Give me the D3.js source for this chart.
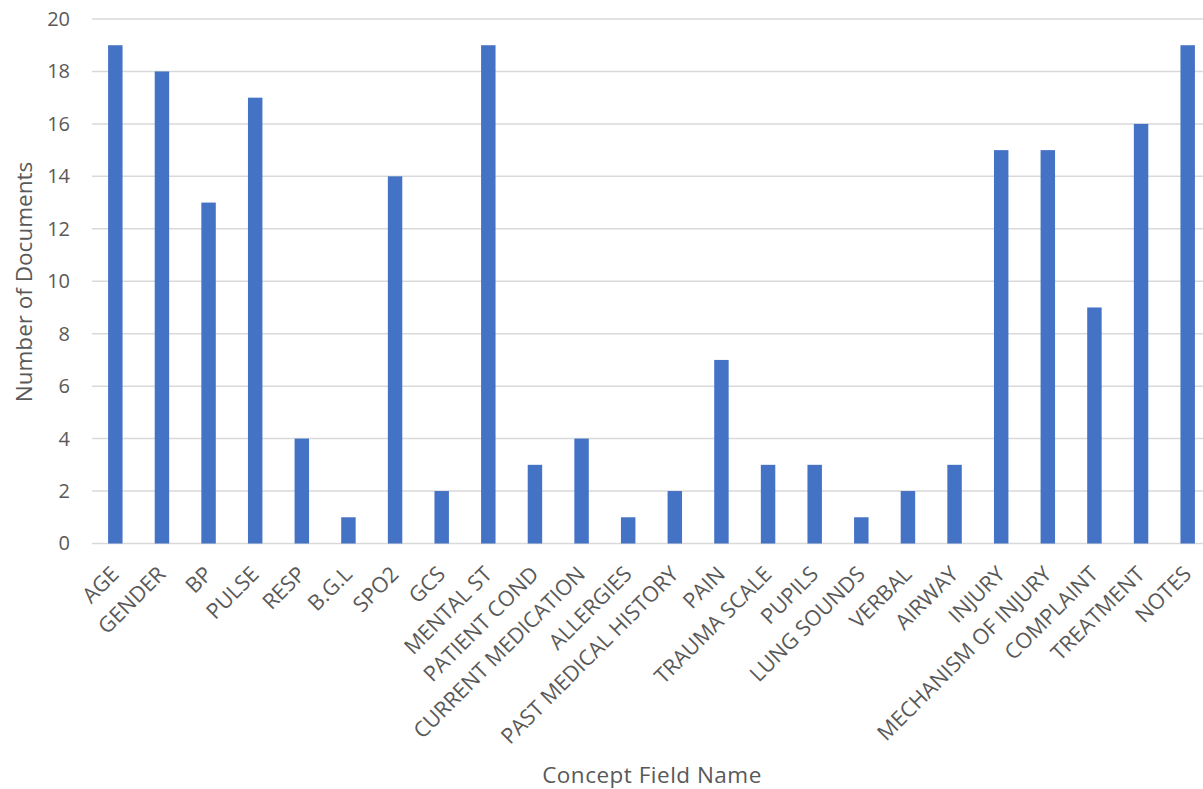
<!DOCTYPE html>
<html>
<head>
<meta charset="utf-8">
<script src="https://cdn.jsdelivr.net/npm/d3@7"></script>
<style>
  body { margin: 0; background: #fff; }
  text { font-family: "Open Sans", sans-serif; fill: #595959; }
</style>
</head>
<body>
<svg id="chart" width="1203" height="789"></svg>
<script>
var fields = ["AGE", "GENDER", "BP", "PULSE", "RESP", "B.G.L", "SPO2", "GCS", "MENTAL ST",
  "PATIENT COND", "CURRENT MEDICATION", "ALLERGIES", "PAST MEDICAL HISTORY", "PAIN",
  "TRAUMA SCALE", "PUPILS", "LUNG SOUNDS", "VERBAL", "AIRWAY", "INJURY",
  "MECHANISM OF INJURY", "COMPLAINT", "TREATMENT", "NOTES"];
var docCounts = [19, 18, 13, 17, 4, 1, 14, 2, 19, 3, 4, 1, 2, 7, 3, 3, 1, 2, 3, 15, 15, 9, 16, 19];
var yTicks = [0, 2, 4, 6, 8, 10, 12, 14, 16, 18, 20];

var svg = d3.select("#chart");

var x = d3.scaleBand().domain(fields).range([92, 1211]).paddingInner(0.69).paddingOuter(0.345);
var y = d3.scaleLinear().domain([0, 20]).range([543.5, 19]);

// gridlines
svg.append("g").attr("class", "grid")
  .selectAll("line")
  .data(yTicks)
  .enter()
  .append("line")
    .attr("x1", 92)
    .attr("x2", 1211)
    .attr("y1", d => y(d))
    .attr("y2", d => y(d))
    .style("stroke", "#d9d9d9")
    .style("stroke-width", 1.5);

// bars
svg.append("g").attr("class", "bars")
  .selectAll("rect")
  .data(docCounts)
  .enter()
  .append("rect")
    .attr("x", (d, i) => x(fields[i]))
    .attr("width", x.bandwidth())
    .attr("y", d => y(d))
    .attr("height", d => y(0) - y(d))
    .style("fill", "#4472C4");

// y axis labels
var yAxis = d3.axisLeft(y).tickValues(yTicks).tickSize(0).tickPadding(0);
var yg = svg.append("g").attr("transform", "translate(70,0)").call(yAxis);
yg.select(".domain").remove();
yg.selectAll("text").style("font-size", "20px").style("fill", "#595959").style("font-family", "Open Sans");

// x axis labels, rotated
var xAxis = d3.axisBottom(x).tickSize(0).tickPadding(0);
var xg = svg.append("g").attr("transform", "translate(0,543.5)").call(xAxis);
xg.select(".domain").remove();
xg.selectAll("text")
  .style("font-size", "21.5px")
  .style("fill", "#595959")
  .style("font-family", "Open Sans")
  .style("text-anchor", "end")
  .attr("dy", null)
  .attr("y", 0)
  .attr("transform", "translate(5,32) rotate(-45)");

// axis titles
svg.append("text")
  .attr("x", 652)
  .attr("y", 783)
  .attr("text-anchor", "middle")
  .style("font-size", "22.5px")
  .style("letter-spacing", "0.5px")
  .text("Concept Field Name");

svg.append("text")
  .attr("transform", "translate(32,282) rotate(-90)")
  .attr("text-anchor", "middle")
  .style("font-size", "22.5px")
  .text("Number of Documents");
</script>
</body>
</html>
